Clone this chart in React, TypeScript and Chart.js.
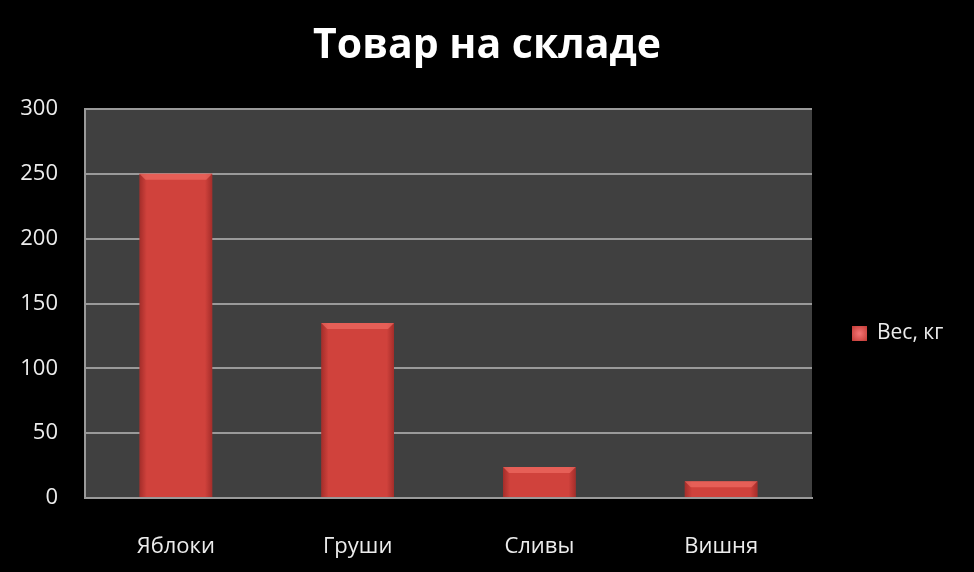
import React, { useEffect, useRef } from "react";
import { Chart, registerables } from "chart.js";

Chart.register(...registerables);

const TITLE = "Товар на складе";
const CATEGORIES = ["Яблоки", "Груши", "Сливы", "Вишня"];
const SERIES_LABEL = "Вес, кг";
const SERIES_VALUES = [250, 135, 24, 13];
const Y_MIN = 0;
const Y_MAX = 300;
const Y_STEP = 50;

const FONT = "'Open Sans', 'DejaVu Sans', sans-serif";
const TEXT_COLOR = "#ececec";
const GRID_COLOR = "#9a9a9a";

const bgPlugin = {
  id: "bgPlugin",
  beforeDraw(chart: any) {
    const { ctx, chartArea } = chart;
    ctx.save();
    ctx.fillStyle = "#000000";
    ctx.fillRect(0, 0, chart.width, chart.height);
    ctx.fillStyle = "#404040";
    ctx.fillRect(chartArea.left, chartArea.top, chartArea.right - chartArea.left, chartArea.bottom - chartArea.top);
    ctx.restore();
  },
};

const titlePlugin = {
  id: "customTitle",
  afterDraw(chart: any) {
    const { ctx } = chart;
    ctx.save();
    ctx.fillStyle = "#ffffff";
    ctx.font = `bold 41px ${FONT}`;
    ctx.textAlign = "center";
    ctx.textBaseline = "alphabetic";
    ctx.fillText(TITLE, chart.width / 2, 58);
    ctx.restore();
  },
};

const bevelPlugin = {
  id: "bevelPlugin",
  afterDatasetsDraw(chart: any) {
    const { ctx } = chart;
    const meta = chart.getDatasetMeta(0);
    ctx.save();
    meta.data.forEach((bar: any) => {
      const { x, y, base, width } = bar.getProps(["x", "y", "base", "width"], true);
      const l = x - width / 2;
      const r = x + width / 2;
      const h = base - y;
      const b = Math.min(6, h / 2);
      const g = ctx.createLinearGradient(l, 0, r, 0);
      g.addColorStop(0, "rgba(110,20,20,0.45)");
      g.addColorStop(0.1, "rgba(110,20,20,0.0)");
      g.addColorStop(0.9, "rgba(110,20,20,0.0)");
      g.addColorStop(1, "rgba(110,20,20,0.45)");
      ctx.fillStyle = g;
      ctx.fillRect(l, y, width, h);
      ctx.fillStyle = "rgba(245,115,105,0.6)";
      ctx.beginPath();
      ctx.moveTo(l, y);
      ctx.lineTo(r, y);
      ctx.lineTo(r - b, y + b);
      ctx.lineTo(l + b, y + b);
      ctx.closePath();
      ctx.fill();
    });
    ctx.restore();
  },
};

const legendPlugin = {
  id: "customLegend",
  afterDraw(chart: any) {
    const { ctx, chartArea } = chart;
    const label = chart.data.datasets[0].label;
    const box = 15;
    const bx = chartArea.right + 40;
    const cy = (chartArea.top + chartArea.bottom) / 2 + 30;
    ctx.save();
    const g = ctx.createRadialGradient(bx + box / 2, cy, 1, bx + box / 2, cy, box * 0.7);
    g.addColorStop(0, "#f07070");
    g.addColorStop(1, "#c23a35");
    ctx.fillStyle = g;
    ctx.fillRect(bx, cy - box / 2, box, box);
    ctx.fillStyle = TEXT_COLOR;
    ctx.font = `21px ${FONT}`;
    ctx.textBaseline = "middle";
    ctx.textAlign = "left";
    ctx.fillText(label, bx + box + 10, cy);
    ctx.restore();
  },
};

export default function App() {
  const ref = useRef<HTMLCanvasElement | null>(null);

  useEffect(() => {
    if (!ref.current) return;
    const chart = new Chart(ref.current, {
      type: "bar",
      data: {
        labels: CATEGORIES,
        datasets: [
          {
            label: SERIES_LABEL,
            data: SERIES_VALUES,
            backgroundColor: "#d0423c",
            borderWidth: 0,
            barPercentage: 0.4,
            categoryPercentage: 1,
          },
        ],
      },
      options: {
        responsive: false,
        animation: false,
        layout: { padding: { left: 0, right: 162, top: 109, bottom: 0 } },
        plugins: {
          legend: { display: false },
          tooltip: { enabled: false },
          title: { display: false },
        },
        scales: {
          x: {
            grid: { display: false, drawTicks: false },
            border: { display: true, color: GRID_COLOR, width: 2 },
            ticks: { color: TEXT_COLOR, font: { family: FONT, size: 22 }, padding: 36 },
            afterFit: (s: any) => {
              s.height = 74;
            },
          },
          y: {
            min: Y_MIN,
            max: Y_MAX,
            grid: { color: GRID_COLOR, lineWidth: 2, drawTicks: false },
            border: { display: true, color: GRID_COLOR, width: 2 },
            ticks: { stepSize: Y_STEP, color: TEXT_COLOR, font: { family: FONT, size: 22 }, padding: 27 },
            afterFit: (s: any) => {
              s.width = 85;
            },
          },
        },
      },
      plugins: [bgPlugin, bevelPlugin, legendPlugin, titlePlugin],
    });
    return () => chart.destroy();
  }, []);

  return (
    <div style={{ position: "fixed", left: 0, top: 0, width: 974, height: 572, background: "#000" }}>
      <canvas ref={ref} width={974} height={572} />
    </div>
  );
}
